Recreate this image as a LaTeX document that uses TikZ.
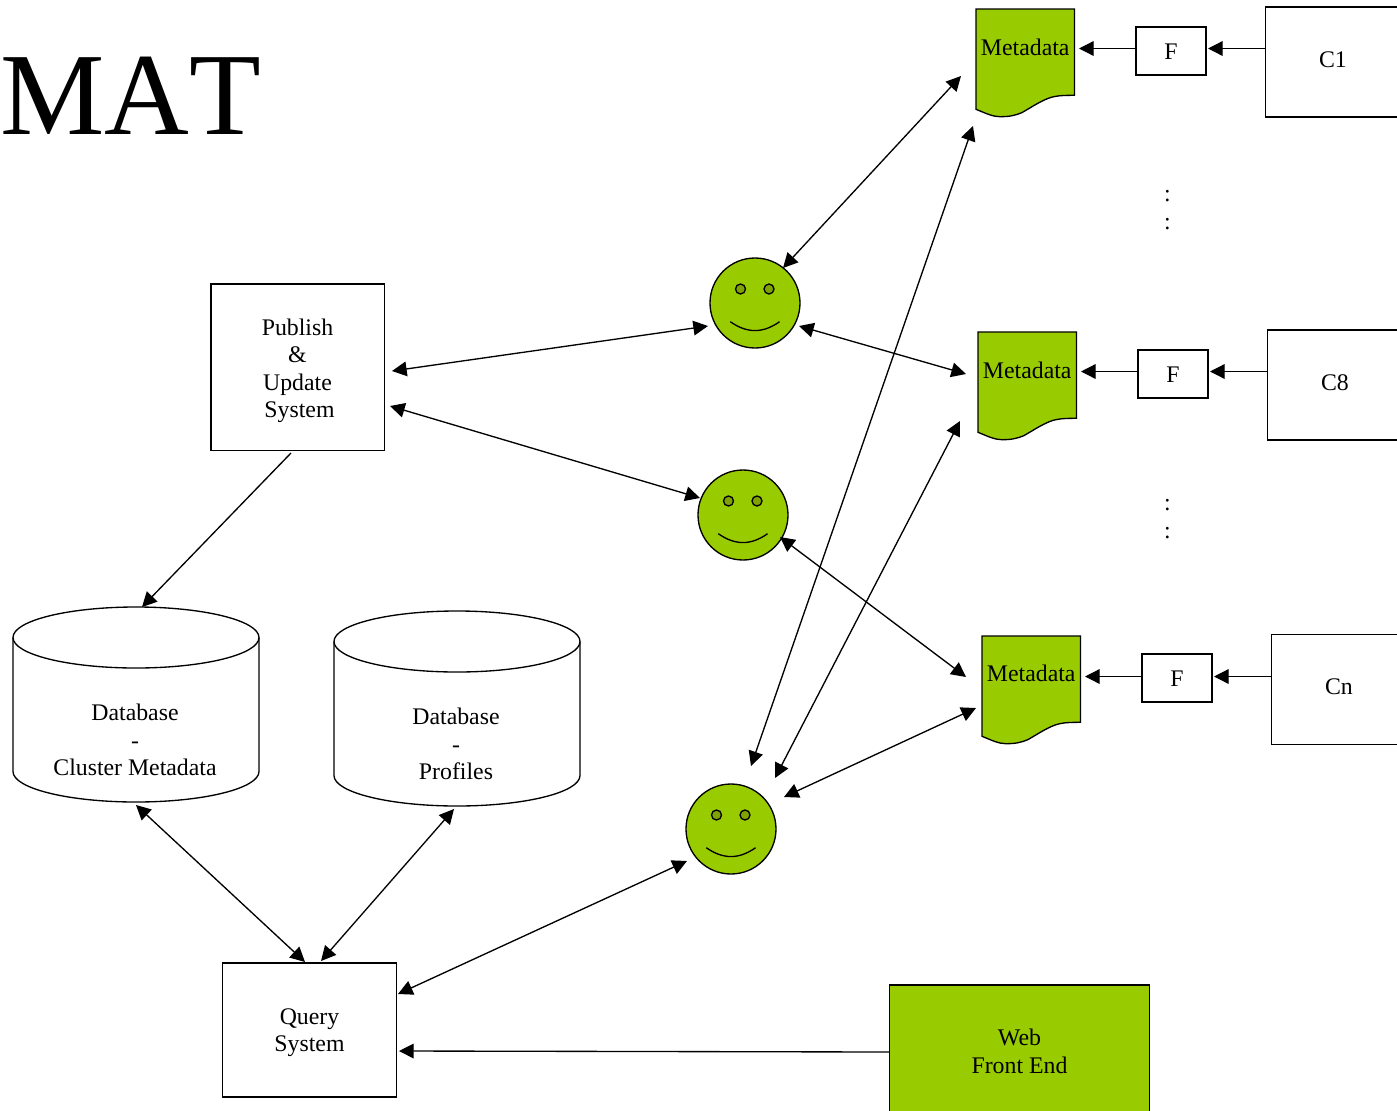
\documentclass[tikz,border=0pt]{standalone}
\usepackage{fontspec}
\setmainfont{Liberation Serif}
\usetikzlibrary{arrows.meta}
\definecolor{leaf}{HTML}{99CC00}
\definecolor{eye}{HTML}{7FA300}
\def\u{0.75pt}
\tikzset{
  x=0.75pt,y=-0.75pt,
  line/.style={draw=black,line width=1pt},
  box/.style={line,rectangle,inner sep=0pt},
  ghost/.style={rectangle,inner sep=0pt},
  lab/.style={inner sep=0pt,align=center,font=\fontsize{17.85}{20.6}\selectfont},
  smile/.style={line,circle,fill=leaf,minimum size=90*\u,inner sep=0pt},
  both/.style={line,{Triangle[length=11pt,width=11pt]}-{Triangle[length=11pt,width=11pt]}},
  one/.style={line,-{Triangle[length=11pt,width=11pt]}},
}
\newcommand\docshape[4]{%
  \node[ghost,minimum width=98.5*\u,minimum height=108*\u] (#1) at (#2,#3) {};
  \begin{scope}[shift={(#2,#3)}]
  \draw[line,fill=leaf] (-49.25,-54) -- (49.25,-54) -- (49.25,32.3)
    .. controls (35,32.3) and (30,33) .. (24.75,34.7)
    .. controls (15,38) and (5,45) .. (-3.5,49.7)
    .. controls (-10,52.5) and (-16,53.7) .. (-25.25,53.7)
    .. controls (-33,53.7) and (-40,50) .. (-49.25,46.3) -- cycle;
  \end{scope}
  \node[lab] (#1t) at (#2,#4) {Metadata};
}
\newcommand\face[3]{%
  \node[smile] (#1) at (#2,#3) {};
  \begin{scope}[shift={(#2,#3)}]
  \draw[line,fill=eye] (-14.5,-14) circle[radius=5];
  \draw[line,fill=eye] (14,-14) circle[radius=5];
  \draw[line] (-24.7,18.7) .. controls (-8,30.5) and (8,30.5) .. (24.5,18.7);
  \end{scope}
}
\newcommand\drum[3]{%
  \node[ghost,minimum width=246*\u,minimum height=195*\u] (#1) at (#2,#3) {};
  \begin{scope}[shift={(#2,#3)}]
  \draw[line] (0,-67) ellipse[x radius=123,y radius=30.5];
  \draw[line] (-123,-67) -- (-123,67)
    .. controls (-123,83.8) and (-68,97.5) .. (0,97.5)
    .. controls (68,97.5) and (123,83.8) .. (123,67) -- (123,-67);
  \end{scope}
}
\begin{document}
\begin{tikzpicture}
\useasboundingbox (0,0) rectangle (1397,1111);

\node[inner sep=0pt,anchor=base west,font=\fontsize{88}{88}\selectfont\addfontfeature{Kerning=Off}] (title) at (0,134) {MAT};

\docshape{m1}{1025.25}{63}{47.5}
\docshape{m2}{1027.25}{386}{370.5}
\docshape{m3}{1031.25}{690}{673.5}

\node[box,minimum width=70*\u,minimum height=48*\u] (f1) at (1171,51) {};
\node[box,minimum width=70*\u,minimum height=48*\u] (f2) at (1173,374) {};
\node[box,minimum width=70*\u,minimum height=48*\u] (f3) at (1177,678) {};
\node[lab] (f1t) at (1171,52) {F};
\node[lab] (f2t) at (1173,375) {F};
\node[lab] (f3t) at (1177,679) {F};

\node[box,minimum width=133.5*\u,minimum height=110*\u] (c1) at (1332.25,62) {};
\node[box,minimum width=133.5*\u,minimum height=110*\u] (c2) at (1334.25,385) {};
\node[box,minimum width=133.5*\u,minimum height=110*\u] (c3) at (1338.25,689.5) {};
\node[lab] (c1t) at (1333,59.5) {C1};
\node[lab] (c2t) at (1335,382.5) {C8};
\node[lab] (c3t) at (1339,687) {Cn};

\node[lab] (dots1a) at (1167.5,196) {:};
\node[lab] (dots1b) at (1167.5,224) {:};
\node[lab] (dots2a) at (1167.5,505.5) {:};
\node[lab] (dots2b) at (1167.5,533.5) {:};

\face{s1}{755}{303}
\face{s2}{743}{515}
\face{s3}{731}{829}

\node[box,minimum width=173.5*\u,minimum height=166.5*\u] (pub) at (297.75,367.25) {};
\node[lab] (pubt) at (297.5,370.75) {Publish\\\&\\Update\\\hspace*{3pt}System};

\drum{db1}{136}{704.5}
\drum{db2}{457}{708.5}
\node[lab] (db1t) at (135,740) {Database\\-\\Cluster Metadata};
\node[lab] (db2t) at (456,744) {Database\\-\\Profiles};

\node[box,minimum width=174*\u,minimum height=134*\u] (q) at (309.5,1030) {};
\node[lab] (qt) at (309.5,1032.5) {Query\\System};
\node[box,fill=leaf,minimum width=260*\u,minimum height=132*\u] (w) at (1019.5,1051) {};
\node[lab] (wt) at (1019.5,1051.5) {Web\\Front End};

% connectors
\draw[both] ([shift={(-64.25,13)}]m1.center) -- ([shift={(28,-35)}]s1.center);
\draw[both] ([shift={(94.25,3.75)}]pub.center) -- ([shift={(-47,23)}]s1.center);
\draw[both] ([shift={(44,23)}]s1.center) -- ([shift={(-61.25,-12)}]m2.center);
\draw[both] ([shift={(92.25,38.75)}]pub.center) -- ([shift={(-43,-17)}]s2.center);
\draw[both] ([shift={(37,22)}]s2.center) -- ([shift={(-65.25,-13)}]m3.center);
\draw[both] ([shift={(-52.25,63)}]m1.center) -- ([shift={(20,-63)}]s3.center);
\draw[both] ([shift={(-67.25,35)}]m2.center) -- ([shift={(44,-51)}]s3.center);
\draw[both] ([shift={(-55.25,18)}]m3.center) -- ([shift={(53,-32)}]s3.center);
\draw[both] ([shift={(88.5,-36)}]q.center) -- ([shift={(-44,32)}]s3.center);
\draw[both] ([shift={(-4.5,-68)}]q.center) -- ([shift={(0,100.5)}]db1.center);
\draw[both] ([shift={(11.5,-69)}]q.center) -- ([shift={(-3,100.5)}]db2.center);
\draw[one] ([shift={(-6.75,85.75)}]pub.center) -- ([shift={(6,-97.5)}]db1.center);
\draw[one] ([shift={(-130,1)}]w.center) -- ([shift={(89.5,21)}]q.center);

\draw[one] ([shift={(-35,-2.5)}]f1.center) -- ([shift={(53.75,-14.5)}]m1.center);
\draw[one] ([shift={(-66.75,-13.5)}]c1.center) -- ([shift={(37,-2.5)}]f1.center);
\draw[one] ([shift={(-35,-2.5)}]f2.center) -- ([shift={(53.75,-14.5)}]m2.center);
\draw[one] ([shift={(-66.75,-13.5)}]c2.center) -- ([shift={(37,-2.5)}]f2.center);
\draw[one] ([shift={(-35,-1.5)}]f3.center) -- ([shift={(53.75,-13.5)}]m3.center);
\draw[one] ([shift={(-66.75,-13)}]c3.center) -- ([shift={(37,-1.5)}]f3.center);
\end{tikzpicture}
\end{document}
